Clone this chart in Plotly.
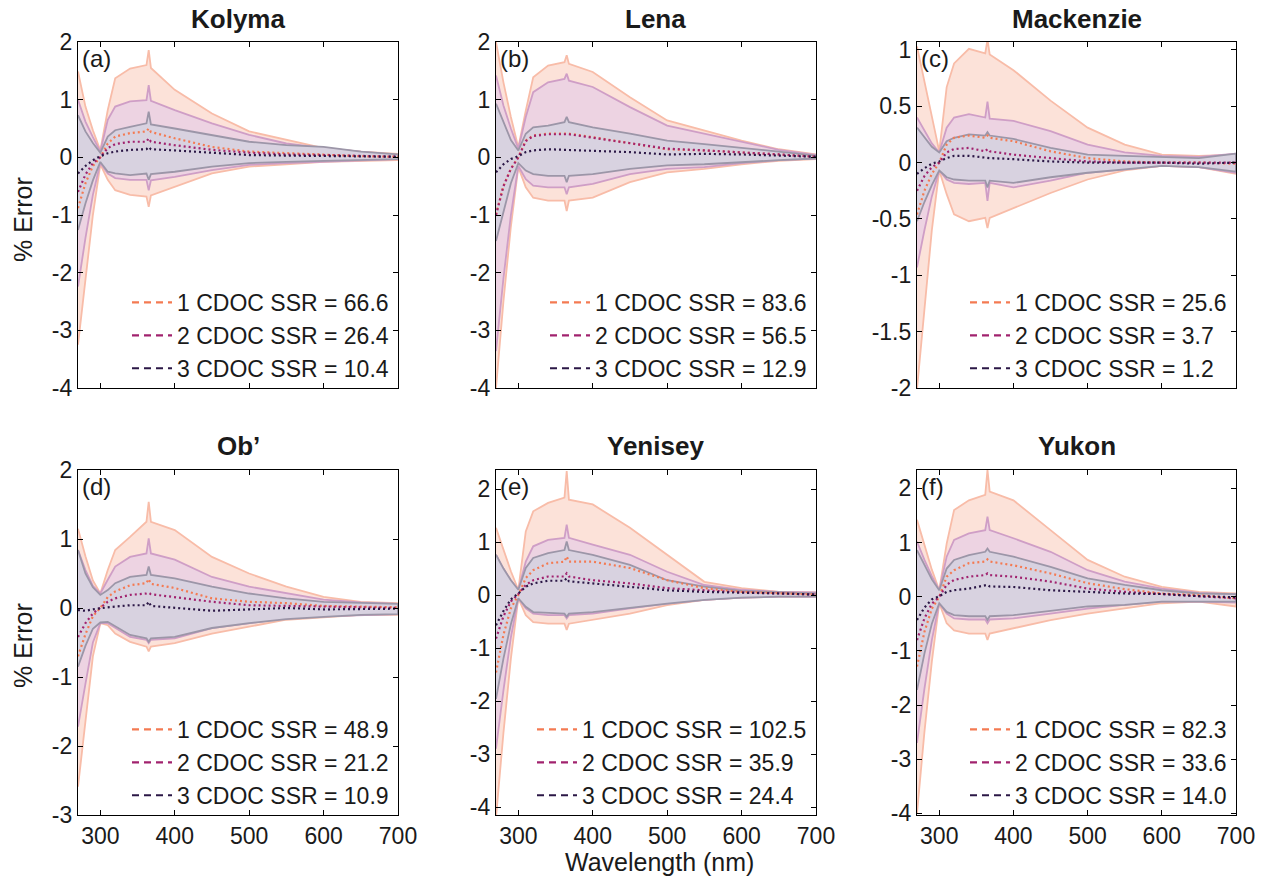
import plotly.graph_objects as go

# ---------------- data ----------------
WAVELENGTH = [270, 280, 290, 300, 310, 320, 340, 362, 365, 368, 400, 450, 500, 550, 600, 650, 700]

RIVERS = ["Kolyma", "Lena", "Mackenzie", "Ob’", "Yenisey", "Yukon"]
LETTERS = ["(a)", "(b)", "(c)", "(d)", "(e)", "(f)"]
SERIES_NAMES = ["1 CDOC", "2 CDOC", "3 CDOC"]

SSR_KOLYMA = [66.6, 26.4, 10.4]
SSR_LENA = [83.6, 56.5, 12.9]
SSR_MACKENZIE = [25.6, 3.7, 1.2]
SSR_OB = [48.9, 21.2, 10.9]
SSR_YENISEY = [102.5, 35.9, 24.4]
SSR_YUKON = [82.3, 33.6, 14.0]

# Kolyma
KOLYMA_UP1 = [1.49, 0.88, 0.47, 0.12, 0.82, 1.37, 1.54, 1.60, 1.86, 1.55, 1.17, 0.76, 0.45, 0.30, 0.16, 0.10, 0.06]
KOLYMA_LO1 = [-3.25, -2.1, -1.0, -0.12, -0.39, -0.57, -0.65, -0.68, -0.86, -0.66, -0.51, -0.28, -0.16, -0.12, -0.08, -0.06, -0.05]
KOLYMA_MEAN1 = [-0.88, -0.45, -0.15, 0.0, 0.24, 0.36, 0.42, 0.45, 0.50, 0.44, 0.33, 0.18, 0.10, 0.07, 0.04, 0.02, 0.01]
KOLYMA_UP2 = [1.0, 0.62, 0.35, 0.10, 0.65, 0.88, 0.97, 0.99, 1.25, 0.98, 0.82, 0.59, 0.39, 0.24, 0.16, 0.10, 0.04]
KOLYMA_LO2 = [-2.24, -1.4, -0.65, -0.10, -0.28, -0.36, -0.39, -0.39, -0.57, -0.40, -0.34, -0.22, -0.13, -0.10, -0.08, -0.05, -0.03]
KOLYMA_MEAN2 = [-0.6, -0.3, -0.1, 0.0, 0.16, 0.23, 0.27, 0.27, 0.33, 0.27, 0.21, 0.13, 0.08, 0.05, 0.04, 0.02, 0.01]
KOLYMA_UP3 = [0.73, 0.45, 0.25, 0.08, 0.36, 0.47, 0.53, 0.59, 0.79, 0.57, 0.50, 0.39, 0.27, 0.21, 0.18, 0.10, 0.05]
KOLYMA_LO3 = [-1.26, -0.8, -0.4, -0.08, -0.25, -0.28, -0.31, -0.28, -0.39, -0.29, -0.25, -0.16, -0.10, -0.08, -0.06, -0.04, -0.03]
KOLYMA_MEAN3 = [-0.28, -0.15, -0.05, 0.02, 0.07, 0.10, 0.13, 0.14, 0.18, 0.14, 0.12, 0.08, 0.04, 0.03, 0.02, 0.01, 0.01]

# Lena
LENA_UP1 = [2.0, 1.3, 0.7, 0.17, 0.81, 1.39, 1.59, 1.65, 1.77, 1.62, 1.48, 1.04, 0.64, 0.46, 0.29, 0.14, 0.05]
LENA_LO1 = [-4.0, -2.5, -1.2, -0.17, -0.52, -0.70, -0.75, -0.75, -0.93, -0.75, -0.70, -0.43, -0.26, -0.20, -0.12, -0.06, -0.03]
LENA_MEAN1 = [-0.99, -0.5, -0.2, 0.0, 0.29, 0.38, 0.41, 0.41, 0.41, 0.41, 0.35, 0.24, 0.14, 0.12, 0.09, 0.05, 0.01]
LENA_UP2 = [1.42, 0.9, 0.5, 0.15, 0.70, 1.13, 1.30, 1.36, 1.45, 1.33, 1.22, 0.87, 0.55, 0.41, 0.26, 0.13, 0.04]
LENA_LO2 = [-3.36, -2.1, -1.0, -0.15, -0.38, -0.49, -0.52, -0.52, -0.64, -0.52, -0.46, -0.29, -0.20, -0.17, -0.10, -0.05, -0.02]
LENA_MEAN2 = [-1.0, -0.5, -0.2, 0.0, 0.28, 0.37, 0.40, 0.40, 0.41, 0.40, 0.34, 0.24, 0.15, 0.12, 0.09, 0.05, 0.01]
LENA_UP3 = [0.93, 0.6, 0.3, 0.12, 0.41, 0.52, 0.55, 0.61, 0.70, 0.61, 0.52, 0.41, 0.29, 0.23, 0.17, 0.10, 0.03]
LENA_LO3 = [-1.45, -0.95, -0.45, -0.10, -0.23, -0.29, -0.32, -0.32, -0.43, -0.32, -0.29, -0.20, -0.14, -0.12, -0.09, -0.05, -0.02]
LENA_MEAN3 = [-0.26, -0.12, -0.03, 0.02, 0.09, 0.12, 0.14, 0.13, 0.13, 0.13, 0.12, 0.09, 0.05, 0.06, 0.05, 0.03, 0.01]

# Mackenzie
MACKENZIE_UP1 = [1.03, 0.72, 0.40, 0.10, 0.67, 0.88, 1.01, 0.97, 1.09, 0.96, 0.82, 0.55, 0.31, 0.16, 0.07, 0.06, 0.07]
MACKENZIE_LO1 = [-2.01, -1.3, -0.6, -0.07, -0.28, -0.46, -0.52, -0.49, -0.58, -0.49, -0.40, -0.27, -0.15, -0.07, -0.03, -0.04, -0.10]
MACKENZIE_MEAN1 = [-0.46, -0.25, -0.10, 0.0, 0.16, 0.22, 0.24, 0.22, 0.24, 0.22, 0.19, 0.10, 0.04, 0.01, 0.0, 0.0, -0.01]
MACKENZIE_UP2 = [0.40, 0.28, 0.17, 0.09, 0.31, 0.40, 0.43, 0.40, 0.54, 0.39, 0.37, 0.28, 0.16, 0.09, 0.06, 0.05, 0.08]
MACKENZIE_LO2 = [-0.93, -0.6, -0.3, -0.07, -0.15, -0.18, -0.19, -0.18, -0.34, -0.18, -0.22, -0.16, -0.09, -0.06, -0.03, -0.04, -0.09]
MACKENZIE_MEAN2 = [-0.25, -0.12, -0.04, 0.0, 0.09, 0.12, 0.13, 0.10, 0.12, 0.10, 0.07, 0.04, 0.01, 0.0, 0.0, 0.0, 0.0]
MACKENZIE_UP3 = [0.31, 0.22, 0.14, 0.09, 0.19, 0.22, 0.25, 0.24, 0.27, 0.24, 0.21, 0.13, 0.07, 0.06, 0.05, 0.04, 0.08]
MACKENZIE_LO3 = [-0.52, -0.35, -0.20, -0.07, -0.13, -0.15, -0.16, -0.16, -0.22, -0.16, -0.18, -0.13, -0.09, -0.06, -0.03, -0.04, -0.08]
MACKENZIE_MEAN3 = [-0.10, -0.05, -0.01, 0.01, 0.04, 0.06, 0.06, 0.04, 0.04, 0.04, 0.03, 0.01, 0.0, 0.0, 0.0, -0.01, 0.0]

# Ob'
OB_UP1 = [1.15, 0.75, 0.40, 0.21, 0.55, 0.84, 1.03, 1.25, 1.54, 1.25, 1.13, 0.74, 0.50, 0.31, 0.16, 0.09, 0.07]
OB_LO1 = [-2.59, -1.6, -0.7, -0.22, -0.25, -0.37, -0.49, -0.56, -0.63, -0.56, -0.51, -0.37, -0.27, -0.17, -0.13, -0.10, -0.10]
OB_MEAN1 = [-0.7, -0.38, -0.12, 0.0, 0.16, 0.24, 0.33, 0.36, 0.42, 0.35, 0.29, 0.14, 0.09, 0.07, 0.03, 0.02, 0.01]
OB_UP2 = [0.84, 0.55, 0.32, 0.21, 0.41, 0.60, 0.74, 0.79, 1.01, 0.79, 0.70, 0.45, 0.31, 0.21, 0.12, 0.08, 0.06]
OB_LO2 = [-1.72, -1.1, -0.5, -0.22, -0.22, -0.29, -0.42, -0.46, -0.51, -0.46, -0.44, -0.29, -0.22, -0.15, -0.12, -0.10, -0.09]
OB_MEAN2 = [-0.42, -0.22, -0.08, 0.0, 0.09, 0.14, 0.19, 0.21, 0.22, 0.20, 0.16, 0.09, 0.04, 0.03, 0.02, 0.01, 0.0]
OB_UP3 = [0.84, 0.5, 0.3, 0.19, 0.26, 0.36, 0.45, 0.48, 0.60, 0.48, 0.43, 0.31, 0.21, 0.14, 0.09, 0.07, 0.06]
OB_LO3 = [-0.85, -0.55, -0.3, -0.21, -0.20, -0.27, -0.39, -0.44, -0.49, -0.44, -0.42, -0.29, -0.22, -0.16, -0.13, -0.10, -0.09]
OB_MEAN3 = [-0.03, -0.04, -0.02, 0.0, 0.01, 0.02, 0.04, 0.04, 0.09, 0.03, 0.0, -0.04, -0.02, 0.0, -0.02, -0.01, -0.01]

# Yenisey
YENISEY_UP1 = [1.27, 0.85, 0.45, 0.10, 1.20, 1.58, 1.74, 1.84, 2.34, 1.80, 1.71, 1.27, 0.76, 0.25, 0.13, 0.06, 0.05]
YENISEY_LO1 = [-4.2, -2.6, -1.2, -0.06, -0.38, -0.51, -0.54, -0.54, -0.66, -0.54, -0.47, -0.35, -0.19, -0.09, -0.05, -0.03, -0.03]
YENISEY_MEAN1 = [-1.46, -0.75, -0.25, 0.0, 0.32, 0.47, 0.60, 0.63, 0.73, 0.63, 0.63, 0.51, 0.28, 0.13, 0.06, 0.03, 0.01]
YENISEY_UP2 = [0.76, 0.5, 0.28, 0.10, 0.63, 0.92, 1.04, 1.08, 1.33, 1.08, 0.95, 0.76, 0.44, 0.19, 0.10, 0.06, 0.05]
YENISEY_LO2 = [-2.9, -1.8, -0.8, -0.06, -0.25, -0.35, -0.38, -0.38, -0.44, -0.38, -0.35, -0.25, -0.16, -0.09, -0.05, -0.03, -0.03]
YENISEY_MEAN2 = [-0.82, -0.4, -0.12, 0.02, 0.19, 0.28, 0.35, 0.35, 0.41, 0.35, 0.28, 0.22, 0.13, 0.09, 0.05, 0.03, 0.01]
YENISEY_UP3 = [0.76, 0.5, 0.28, 0.10, 0.51, 0.70, 0.79, 0.85, 1.01, 0.85, 0.76, 0.57, 0.28, 0.16, 0.08, 0.05, 0.03]
YENISEY_LO3 = [-1.96, -1.2, -0.55, -0.06, -0.22, -0.32, -0.33, -0.35, -0.41, -0.35, -0.32, -0.24, -0.16, -0.09, -0.05, -0.03, -0.03]
YENISEY_MEAN3 = [-0.57, -0.3, -0.08, 0.03, 0.16, 0.22, 0.27, 0.27, 0.32, 0.26, 0.22, 0.16, 0.09, 0.06, 0.05, 0.03, 0.01]

# Yukon
YUKON_UP1 = [1.42, 0.95, 0.50, 0.12, 0.98, 1.60, 1.78, 1.88, 2.34, 1.94, 1.78, 1.23, 0.68, 0.37, 0.18, 0.09, 0.06]
YUKON_LO1 = [-4.0, -2.5, -1.2, -0.12, -0.49, -0.62, -0.68, -0.68, -0.80, -0.68, -0.58, -0.43, -0.31, -0.22, -0.12, -0.09, -0.18]
YUKON_MEAN1 = [-1.29, -0.65, -0.22, 0.0, 0.37, 0.49, 0.62, 0.65, 0.69, 0.65, 0.58, 0.43, 0.25, 0.14, 0.06, 0.03, -0.03]
YUKON_UP2 = [1.02, 0.68, 0.38, 0.12, 0.74, 1.05, 1.17, 1.23, 1.48, 1.23, 1.08, 0.83, 0.49, 0.28, 0.15, 0.07, 0.05]
YUKON_LO2 = [-2.7, -1.7, -0.8, -0.12, -0.31, -0.40, -0.42, -0.42, -0.49, -0.42, -0.40, -0.31, -0.22, -0.15, -0.09, -0.09, -0.11]
YUKON_MEAN2 = [-0.8, -0.4, -0.13, 0.0, 0.22, 0.31, 0.37, 0.40, 0.43, 0.40, 0.37, 0.28, 0.15, 0.09, 0.05, 0.01, -0.03]
YUKON_UP3 = [0.86, 0.58, 0.32, 0.12, 0.52, 0.68, 0.77, 0.83, 0.89, 0.83, 0.74, 0.55, 0.34, 0.22, 0.12, 0.06, 0.05]
YUKON_LO3 = [-1.72, -1.05, -0.5, -0.12, -0.28, -0.34, -0.36, -0.36, -0.43, -0.36, -0.34, -0.26, -0.18, -0.15, -0.09, -0.09, -0.09]
YUKON_MEAN3 = [-0.43, -0.2, -0.05, 0.01, 0.09, 0.12, 0.15, 0.20, 0.22, 0.19, 0.18, 0.12, 0.09, 0.06, 0.05, 0.01, -0.01]

Y_RANGES = [[-4, 2], [-4, 2], [-2, 1.07], [-3, 2], [-4.15, 2.36], [-4.03, 2.34]]
Y_TICKS = [
    [-4, -3, -2, -1, 0, 1, 2],
    [-4, -3, -2, -1, 0, 1, 2],
    [-2, -1.5, -1, -0.5, 0, 0.5, 1],
    [-3, -2, -1, 0, 1, 2],
    [-4, -3, -2, -1, 0, 1, 2],
    [-4, -3, -2, -1, 0, 1, 2],
]
X_TICKS = [300, 400, 500, 600, 700]

PANEL_DATA = [
    ([KOLYMA_UP1, KOLYMA_UP2, KOLYMA_UP3], [KOLYMA_LO1, KOLYMA_LO2, KOLYMA_LO3], [KOLYMA_MEAN1, KOLYMA_MEAN2, KOLYMA_MEAN3], SSR_KOLYMA),
    ([LENA_UP1, LENA_UP2, LENA_UP3], [LENA_LO1, LENA_LO2, LENA_LO3], [LENA_MEAN1, LENA_MEAN2, LENA_MEAN3], SSR_LENA),
    ([MACKENZIE_UP1, MACKENZIE_UP2, MACKENZIE_UP3], [MACKENZIE_LO1, MACKENZIE_LO2, MACKENZIE_LO3], [MACKENZIE_MEAN1, MACKENZIE_MEAN2, MACKENZIE_MEAN3], SSR_MACKENZIE),
    ([OB_UP1, OB_UP2, OB_UP3], [OB_LO1, OB_LO2, OB_LO3], [OB_MEAN1, OB_MEAN2, OB_MEAN3], SSR_OB),
    ([YENISEY_UP1, YENISEY_UP2, YENISEY_UP3], [YENISEY_LO1, YENISEY_LO2, YENISEY_LO3], [YENISEY_MEAN1, YENISEY_MEAN2, YENISEY_MEAN3], SSR_YENISEY),
    ([YUKON_UP1, YUKON_UP2, YUKON_UP3], [YUKON_LO1, YUKON_LO2, YUKON_LO3], [YUKON_MEAN1, YUKON_MEAN2, YUKON_MEAN3], SSR_YUKON),
]

# ---------------- styling ----------------
W, H = 1267, 879
FONT = "Liberation Sans, Arial, Helvetica, sans-serif"
TEXT_COLOR = "#1a1a1a"
FILL_COLORS = ["#FCE2D9", "#EDD3E2", "#D8D2E0"]
EDGE_COLORS = ["#F8BCA8", "#CF9EC6", "#9C96A8"]
MEAN_COLORS = ["#F47A52", "#A1226E", "#2B1746"]

COL_PX = [(78, 398), (496, 816), (917, 1236)]
ROW_PX = [(42, 388), (470, 815)]

fig = go.Figure()
layout = dict(
    width=W, height=H, autosize=False,
    margin=dict(l=0, r=0, t=0, b=0, pad=0, autoexpand=False),
    paper_bgcolor="white", plot_bgcolor="white",
    font=dict(family=FONT, size=22, color=TEXT_COLOR),
    showlegend=True,
)
annotations = []

for i, river in enumerate(RIVERS):
    r, c = divmod(i, 3)
    sfx = "" if i == 0 else str(i + 1)
    xref, yref = "x" + sfx, "y" + sfx
    legend_id = "legend" + sfx
    x0, x1 = COL_PX[c]
    y0, y1 = ROW_PX[r]
    ups, los, means, ssr = PANEL_DATA[i]

    # shaded envelopes
    for s in range(3):
        fig.add_trace(go.Scatter(
            x=WAVELENGTH + WAVELENGTH[::-1],
            y=ups[s] + los[s][::-1],
            fill="toself", fillcolor=FILL_COLORS[s],
            mode="lines", line=dict(color=EDGE_COLORS[s], width=1.8),
            xaxis=xref, yaxis=yref, showlegend=False, hoverinfo="skip",
        ))
    # dotted mean lines
    for s in range(3):
        fig.add_trace(go.Scatter(
            x=WAVELENGTH, y=means[s], mode="lines",
            line=dict(color=MEAN_COLORS[s], width=2.2, dash="2px,3px"),
            xaxis=xref, yaxis=yref, showlegend=False,
        ))
    # legend entries (dashed samples)
    for s in range(3):
        fig.add_trace(go.Scatter(
            x=[None], y=[None], mode="lines",
            line=dict(color=MEAN_COLORS[s], width=2.2, dash="7px,5px"),
            name=f"{SERIES_NAMES[s]} SSR = {ssr[s]:.1f}",
            xaxis=xref, yaxis=yref, legend=legend_id, showlegend=True,
        ))

    layout["xaxis" + sfx] = dict(
        domain=[x0 / W, x1 / W], range=[270, 700], anchor=yref,
        tickvals=X_TICKS, ticktext=[str(v) for v in X_TICKS],
        showticklabels=(r == 1), ticks="inside", ticklen=5, tickwidth=1, tickcolor="black",
        showline=True, linecolor="black", linewidth=1.2, mirror="ticks",
        showgrid=False, zeroline=False, automargin=False,
        tickfont=dict(size=23, color=TEXT_COLOR),
    )
    yt = Y_TICKS[i]
    layout["yaxis" + sfx] = dict(
        domain=[1 - y1 / H, 1 - y0 / H], range=Y_RANGES[i], anchor=xref,
        tickvals=yt, ticktext=[("%g" % v) for v in yt],
        ticks="inside", ticklen=5, tickwidth=1, tickcolor="black",
        showline=True, linecolor="black", linewidth=1.2, mirror="ticks",
        showgrid=False, zeroline=False, automargin=False,
        tickfont=dict(size=23, color=TEXT_COLOR),
    )
    layout[legend_id] = dict(
        x=(x1 - 4) / W, y=1 - (y1 + 2) / H, xanchor="right", yanchor="bottom",
        bgcolor="rgba(0,0,0,0)", borderwidth=0,
        font=dict(size=23, color=TEXT_COLOR, family=FONT),
        itemwidth=40, tracegroupgap=0, traceorder="normal",
    )

    # title
    annotations.append(dict(
        text=f"<b>{river}</b>", x=(x0 + x1) / 2 / W, y=1 - (19 if r == 0 else 446) / H,
        xref="paper", yref="paper", xanchor="center", yanchor="middle",
        showarrow=False, font=dict(size=26, color=TEXT_COLOR),
    ))
    # panel letter
    annotations.append(dict(
        text=LETTERS[i], x=(x0 + 2) / W, y=1 - (y0 + 1) / H,
        xref="paper", yref="paper", xanchor="left", yanchor="top",
        showarrow=False, font=dict(size=24, color=TEXT_COLOR),
    ))

# y axis labels
for r, yc in enumerate([220, 646]):
    annotations.append(dict(
        text="% Error", x=23 / W, y=1 - yc / H, xref="paper", yref="paper",
        xanchor="center", yanchor="middle", textangle=-90, showarrow=False,
        font=dict(size=25, color=TEXT_COLOR),
    ))
# x axis label
annotations.append(dict(
    text="Wavelength (nm)", x=660 / W, y=1 - 862 / H, xref="paper", yref="paper",
    xanchor="center", yanchor="middle", showarrow=False,
    font=dict(size=25, color=TEXT_COLOR),
))

layout["annotations"] = annotations
fig.update_layout(**layout)
fig.write_html(
    "out.html",
    config={"displayModeBar": False},
    post_script="document.body.style.margin='0';document.body.style.padding='0';document.body.style.overflow='hidden';",
)
